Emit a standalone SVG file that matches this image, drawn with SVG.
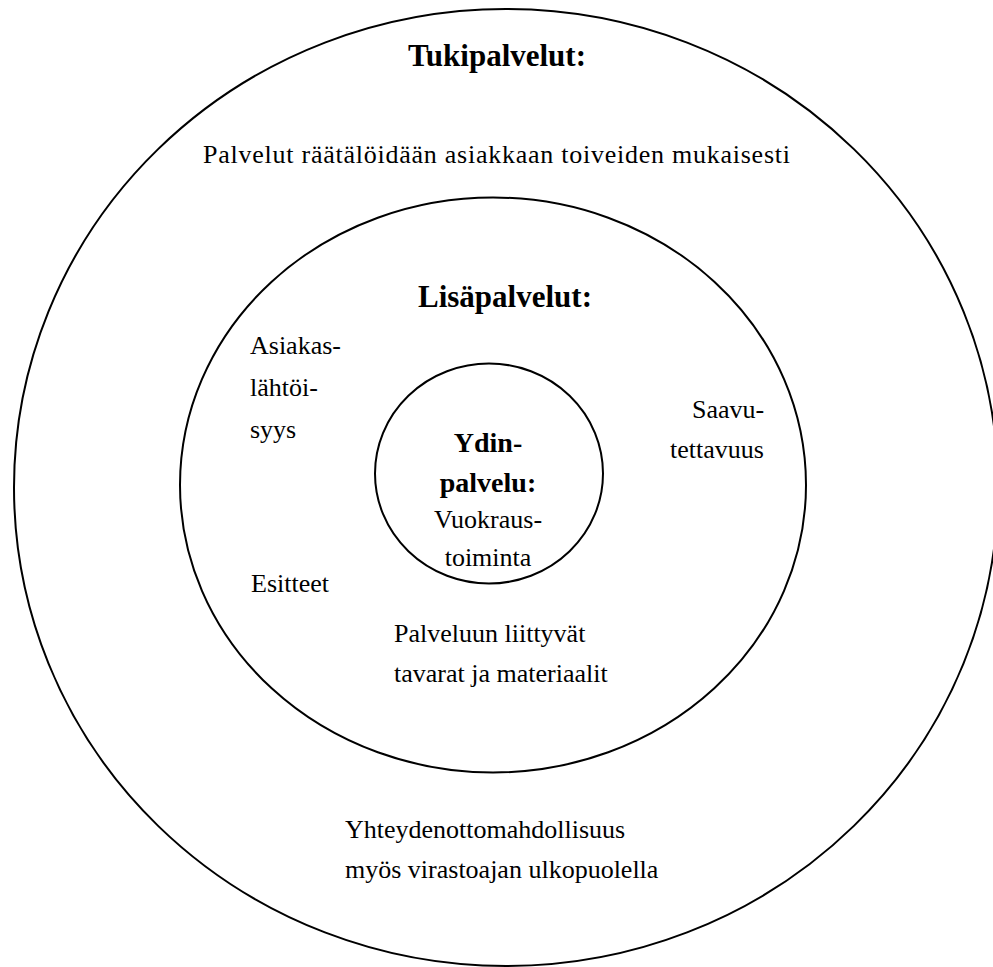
<svg xmlns="http://www.w3.org/2000/svg" width="993" height="967" viewBox="0 0 993 967">
  <style>
    .ring { fill: none; stroke: #000; stroke-width: 2; }
    .t { font-family: "Liberation Serif", "DejaVu Serif", serif; font-size: 26px; fill: #000; }
    .b { font-family: "Liberation Serif", "DejaVu Serif", serif; font-size: 28px; font-weight: bold; fill: #000; }
    .h { font-size: 31px; }
  </style>
  <rect width="993" height="967" fill="#fff"/>

  <!-- Outer ring: support services -->
  <g id="tukipalvelut">
    <ellipse class="ring" cx="506" cy="487.5" rx="492" ry="478.5"/>
    <text class="b h" x="497" y="66" text-anchor="middle">Tukipalvelut:</text>
    <text class="t" x="203" y="163" textLength="587" lengthAdjust="spacing">Palvelut räätälöidään asiakkaan toiveiden mukaisesti</text>
    <text class="t" x="345" y="838">Yhteydenottomahdollisuus</text>
    <text class="t" x="345" y="878">myös virastoajan ulkopuolella</text>
  </g>

  <!-- Middle ring: additional services -->
  <g id="lisapalvelut">
    <ellipse class="ring" cx="493" cy="485" rx="313" ry="287.5"/>
    <text class="b h" x="505" y="307" text-anchor="middle">Lisäpalvelut:</text>
    <text class="t" x="250" y="354">Asiakas-</text>
    <text class="t" x="250" y="396">lähtöi-</text>
    <text class="t" x="250" y="438">syys</text>
    <text class="t" x="692" y="418">Saavu-</text>
    <text class="t" x="670" y="458">tettavuus</text>
    <text class="t" x="251" y="592">Esitteet</text>
    <text class="t" x="394" y="642">Palveluun liittyvät</text>
    <text class="t" x="394" y="682">tavarat ja materiaalit</text>
  </g>

  <!-- Core: rental activity -->
  <g id="ydinpalvelu">
    <ellipse class="ring" cx="489" cy="473.5" rx="114" ry="110"/>
    <text class="b" x="488" y="452" text-anchor="middle">Ydin-</text>
    <text class="b" x="488" y="492" text-anchor="middle">palvelu:</text>
    <text class="t" x="488" y="528" text-anchor="middle">Vuokraus-</text>
    <text class="t" x="488" y="566" text-anchor="middle">toiminta</text>
  </g>

  <g id="connectors"/>
</svg>
